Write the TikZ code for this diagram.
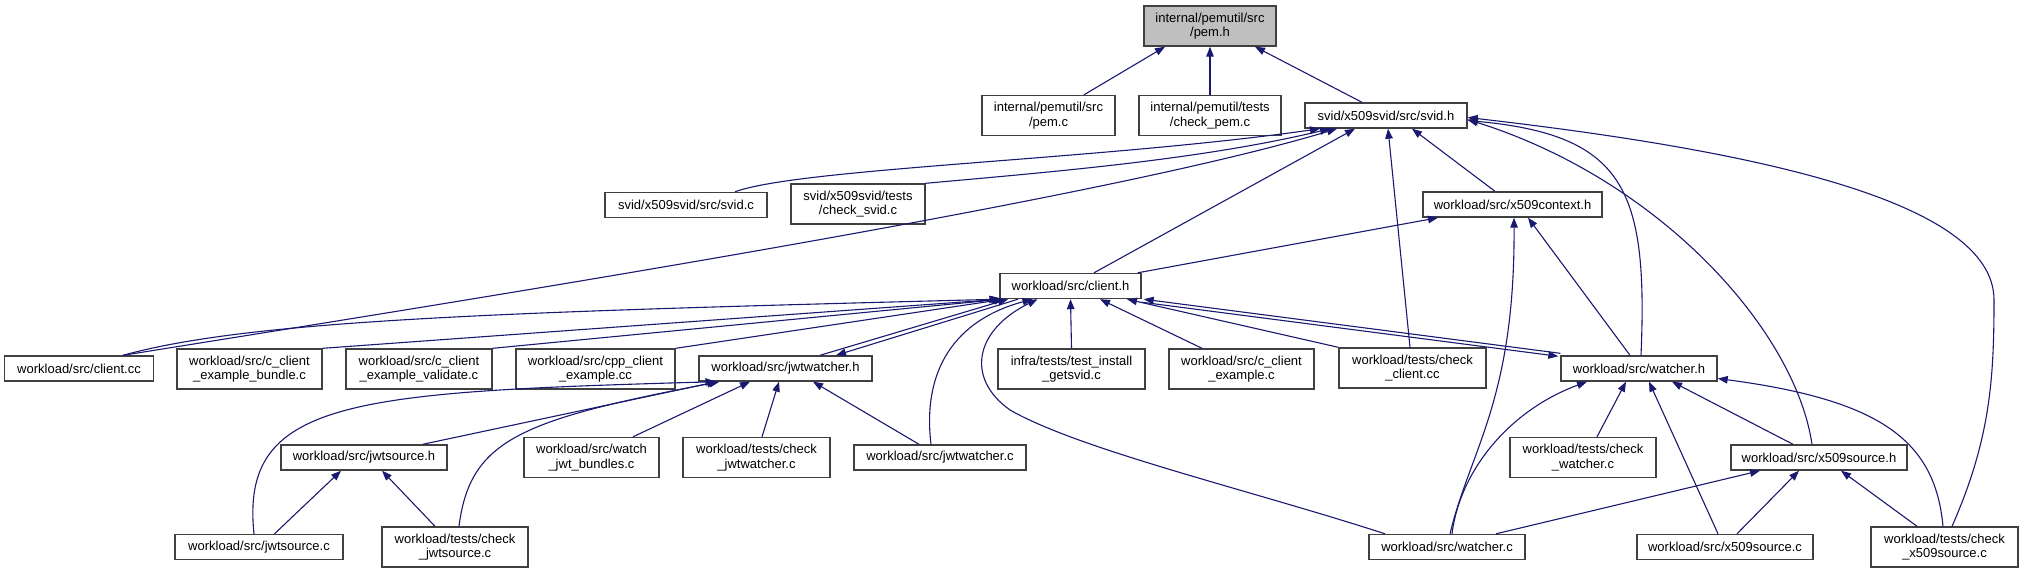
\documentclass[tikz,border=0pt]{standalone}
\usepackage{fontspec}
\setmainfont{Liberation Sans}
\usepackage{tikz}
\usetikzlibrary{arrows.meta}
\definecolor{edgeblue}{HTML}{191970}
\definecolor{boxline}{HTML}{404040}
\definecolor{rootfill}{HTML}{BFBFBF}
\tikzset{
  incbox/.style={draw=boxline, fill=white, line width=1.4pt, align=center, inner sep=1pt, font=\fontsize{13}{14.5}\selectfont, minimum height=25pt},
  incboxtwo/.style={incbox, minimum height=40pt},
  incarrow/.style={-{Triangle[length=10pt,width=7.5pt]}, line width=1.1pt, draw=edgeblue}
}

\begin{document}
\begin{tikzpicture}[x=1pt,y=-1pt]
  \useasboundingbox (0,0) rectangle (2023,573);

  % nodes: top
  \node[incboxtwo, fill=rootfill, minimum width=132pt] (pemh) at (1210,26) {internal/pemutil/src\\/pem.h};

  \node[incboxtwo, minimum width=133pt] (pemc) at (1048.5,115.5) {internal/pemutil/src\\/pem.c};
  \node[incboxtwo, minimum width=142pt] (checkpem) at (1210,115.5) {internal/pemutil/tests\\/check\_pem.c};
  \node[incbox, minimum width=162pt] (svidh) at (1386,115.5) {svid/x509svid/src/svid.h};

  \node[incbox, minimum width=162pt] (svidc) at (686,205) {svid/x509svid/src/svid.c};
  \node[incboxtwo, minimum width=134pt] (checksvid) at (858,204) {svid/x509svid/tests\\/check\_svid.c};
  \node[incbox, minimum width=179pt] (x509ctx) at (1512.5,204.5) {workload/src/x509context.h};

  \node[incbox, minimum width=141pt] (clienth) at (1070.5,286) {workload/src/client.h};

  % nodes: middle row
  \node[incbox, minimum width=149pt] (clientcc) at (79,368.5) {workload/src/client.cc};
  \node[incboxtwo, minimum width=145pt] (bundle) at (249.5,369) {workload/src/c\_client\\\_example\_bundle.c};
  \node[incboxtwo, minimum width=146pt] (validate) at (419,369) {workload/src/c\_client\\\_example\_validate.c};
  \node[incboxtwo, minimum width=159pt] (cppex) at (595.5,369) {workload/src/cpp\_client\\\_example.cc};
  \node[incbox, minimum width=173pt] (jwtwatcherh) at (785.5,368.5) {workload/src/jwtwatcher.h};
  \node[incboxtwo, minimum width=147pt] (testinst) at (1071.5,369) {infra/tests/test\_install\\\_getsvid.c};
  \node[incboxtwo, minimum width=145pt] (cclientex) at (1241.5,369) {workload/src/c\_client\\\_example.c};
  \node[incboxtwo, minimum width=147pt] (checkclient) at (1412.5,368) {workload/tests/check\\\_client.cc};
  \node[incbox, minimum width=156pt] (watcherh) at (1639,368.5) {workload/src/watcher.h};

  \node[incbox, minimum width=166pt] (jwtsourceh) at (364,457.5) {workload/src/jwtsource.h};
  \node[incboxtwo, minimum width=135pt] (watchjwt) at (591.5,457.5) {workload/src/watch\\\_jwt\_bundles.c};
  \node[incboxtwo, minimum width=147pt] (checkjwtw) at (756.5,457.5) {workload/tests/check\\\_jwtwatcher.c};
  \node[incbox, minimum width=172pt] (jwtwatcherc) at (940,457.5) {workload/src/jwtwatcher.c};
  \node[incboxtwo, minimum width=146pt] (checkwatcher) at (1583,457.5) {workload/tests/check\\\_watcher.c};
  \node[incbox, minimum width=176pt] (x509srch) at (1819,457.5) {workload/src/x509source.h};

  % nodes: bottom row
  \node[incbox, minimum width=168pt] (jwtsourcec) at (259,547) {workload/src/jwtsource.c};
  \node[incboxtwo, minimum width=146pt] (checkjwtsrc) at (455,547) {workload/tests/check\\\_jwtsource.c};
  \node[incbox, minimum width=156pt] (watcherc) at (1447,547) {workload/src/watcher.c};
  \node[incbox, minimum width=176pt] (x509srcc) at (1725,547) {workload/src/x509source.c};
  \node[incboxtwo, minimum width=147pt] (checkx509) at (1944.5,547) {workload/tests/check\\\_x509source.c};

  % routing coordinates
  \coordinate (svidbend) at (1994,300);
  \coordinate (wcbend)   at (1010,410);

  % arrows: pem.h
  \draw[incarrow] ([xshift=35.5]pemc.north) -- ([xshift=-45]pemh.south);
  \draw[incarrow] (checkpem.north) -- (pemh.south);
  \draw[incarrow] ([xshift=-24]svidh.north) -- ([xshift=45]pemh.south);

  % arrows: svid.h
  \draw[incarrow] ([xshift=49]svidc.north) .. controls (800,168) and (1100,160) .. ([xshift=-66]svidh.south);
  \draw[incarrow] (checksvid.north east) .. controls (1050,172) and (1200,160) .. ([xshift=-56]svidh.south);
  \draw[incarrow] ([xshift=44]clientcc.north) .. controls (500,295) and (1100,200) .. ([xshift=-49]svidh.south);
  \draw[incarrow] ([xshift=23.5]clienth.north) -- ([xshift=-31]svidh.south);
  \draw[incarrow] ([xshift=-2.5]checkclient.north) -- ([xshift=2]svidh.south);
  \draw[incarrow] ([xshift=-17.5]x509ctx.north) -- ([xshift=26]svidh.south);
  \draw[incarrow] ([xshift=2]watcherh.north) .. controls (1648,190) and (1625,135) .. ([yshift=-5]svidh.east);
  \draw[incarrow] ([xshift=-7]x509srch.north) .. controls (1795,330) and (1660,180) .. ([yshift=-4]svidh.east);
  \draw[incarrow] ([xshift=7.5]checkx509.north) .. controls (1990,440) and (1994,380) .. (svidbend)
    .. controls (1994,200) and (1750,150) .. ([yshift=-2]svidh.east);

  % arrows: x509context.h
  \draw[incarrow] ([xshift=-4]clienth.north east) -- ([xshift=-74.5]x509ctx.south);
  \draw[incarrow] ([xshift=3]watcherc.north) .. controls (1470,450) and (1515,400) .. ([xshift=1.5]x509ctx.south);
  \draw[incarrow] ([xshift=-9]watcherh.north) -- ([xshift=15.5]x509ctx.south);

  % arrows: client.h
  \draw[incarrow] ([xshift=44]clientcc.north) .. controls (250,320) and (500,312) .. (clienth.south west);
  \draw[incarrow] (bundle.north east) -- ([xshift=2]clienth.south west);
  \draw[incarrow] (validate.north east) -- ([xshift=3]clienth.south west);
  \draw[incarrow] (cppex.north east) -- ([xshift=5]clienth.south west);
  \draw[incarrow] ([xshift=34.5]jwtwatcherh.north) -- ([xshift=-62.5]clienth.south);
  \draw[incarrow] ([xshift=-52.5]clienth.south) -- ([xshift=50.5]jwtwatcherh.north);
  \draw[incarrow] ([xshift=-9]jwtwatcherc.north) .. controls (922,370) and (955,320) .. ([xshift=-38]clienth.south);
  \draw[incarrow] ([xshift=-62]watcherc.north) .. controls (1250,490) and (1080,450) .. (wcbend)
    .. controls (965,378) and (975,330) .. ([xshift=-33]clienth.south);
  \draw[incarrow] (testinst.north) -- (clienth.south);
  \draw[incarrow] ([xshift=-39.5]cclientex.north) -- ([xshift=29.5]clienth.south);
  \draw[incarrow] (checkclient.north west) -- ([xshift=56.5]clienth.south);
  \draw[incarrow] ([yshift=2]watcherh.north west) -- ([xshift=2]clienth.south east);
  \draw[incarrow] ([yshift=-3]clienth.south east) -- ([xshift=-2,yshift=-1]watcherh.north west);

  % arrows: jwtwatcher.h
  \draw[incarrow] ([xshift=-25]jwtsourceh.north east) -- ([xshift=-68.5]jwtwatcherh.south);
  \draw[incarrow] ([xshift=-5]jwtsourcec.north) .. controls (240,400) and (350,392) .. ([xshift=-70]jwtwatcherh.south);
  \draw[incarrow] ([xshift=4]checkjwtsrc.north) .. controls (470,440) and (520,420) .. ([xshift=-66]jwtwatcherh.south);
  \draw[incarrow] ([xshift=41.5]watchjwt.north) -- ([xshift=-35.5]jwtwatcherh.south);
  \draw[incarrow] ([xshift=5.5]checkjwtw.north) -- ([xshift=-6.5]jwtwatcherh.south);
  \draw[incarrow] ([xshift=-21]jwtwatcherc.north) -- ([xshift=27.5]jwtwatcherh.south);

  % arrows: jwtsource.h
  \draw[incarrow] ([xshift=15.5]jwtsourcec.north) -- ([xshift=-23]jwtsourceh.south);
  \draw[incarrow] ([xshift=-20]checkjwtsrc.north) -- ([xshift=18]jwtsourceh.south);

  % arrows: watcher.h
  \draw[incarrow] ([xshift=5]watcherc.north) .. controls (1460,470) and (1510,410) .. ([xshift=-52]watcherh.south);
  \draw[incarrow] ([xshift=14]checkwatcher.north) -- ([xshift=-13]watcherh.south);
  \draw[incarrow] ([xshift=-7]x509srcc.north) -- ([xshift=10]watcherh.south);
  \draw[incarrow] ([xshift=-26]x509srch.north) -- ([xshift=33]watcherh.south);
  \draw[incarrow] ([xshift=-1.5]checkx509.north) .. controls (1935,440) and (1880,400) .. ([yshift=-10]watcherh.east);

  % arrows: x509source.h
  \draw[incarrow] ([xshift=49]watcherc.north) -- ([xshift=-59]x509srch.south);
  \draw[incarrow] ([xshift=12]x509srcc.north) -- ([xshift=-20]x509srch.south);
  \draw[incarrow] ([xshift=-27.5]checkx509.north) -- ([xshift=22]x509srch.south);

\end{tikzpicture}
\end{document}
